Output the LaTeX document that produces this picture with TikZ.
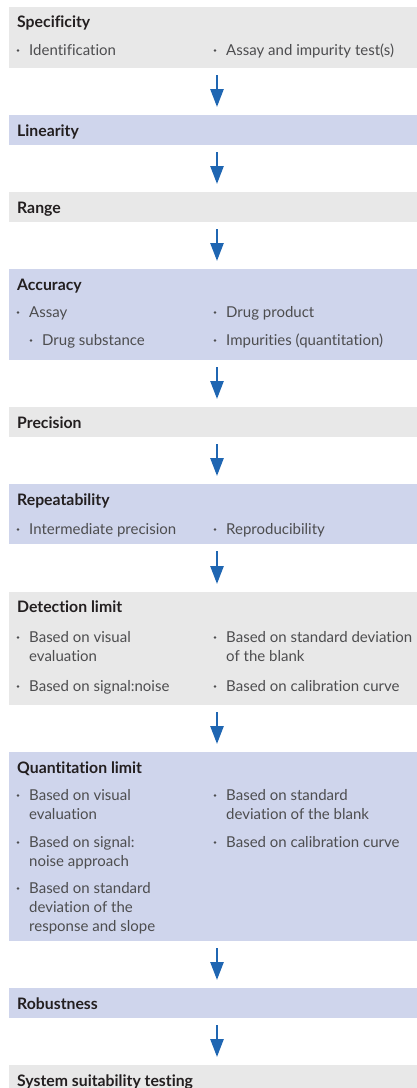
\documentclass[tikz,border=0pt]{standalone}
\usepackage{fontspec}
\setmainfont{Lato}[Ligatures={NoCommon}]
\usepackage{tikz}
\usetikzlibrary{arrows.meta,positioning}
\definecolor{VALGray}{HTML}{E8E8E8}
\definecolor{VALLavender}{HTML}{CFD5EC}
\definecolor{VALBlue}{HTML}{1F66B2}
\definecolor{VALTitle}{HTML}{231F20}
\definecolor{VALText}{HTML}{4D4D4F}
\tikzset{
  stage/.style={
    anchor=north west,
    minimum width=416pt,
    inner sep=0pt,
    outer sep=0pt
  },
  graystage/.style={stage,fill=VALGray},
  bluestage/.style={stage,fill=VALLavender},
  stagetitle/.style={anchor=base west,inner sep=0pt,font=\fontsize{15.8}{18}\selectfont\bfseries,text=VALTitle},
  itemtext/.style={anchor=base west,inner sep=0pt,font=\fontsize{15}{19}\selectfont,text=VALText},
  arrow/.style={-{Triangle[length=18pt,width=13pt]},draw=VALBlue,line width=2.6pt,shorten <=7pt,shorten >=8pt}
}
% The item text sits in a top-aligned tabular, so its base is the first line.
\newcommand{\valitem}[4]{%
  \node[itemtext] (#1) at (#2,#3) {\begin{tabular}[t]{@{}l@{}}#4\end{tabular}};
  \fill[VALText] (#2,#3) ++(-11,-4.5) circle (1.3pt);
}

\begin{document}
\begin{tikzpicture}[x=1pt,y=-1pt]
  \useasboundingbox (0,0) rectangle (416,1088);

  % Stage boxes, from top to bottom.
  \node[graystage,minimum height=61pt] (spec) at (9,7) {};
  \node[bluestage,minimum height=30pt] (lin) at (9,115) {};
  \node[graystage,minimum height=30pt] (range) at (9,192) {};
  \node[bluestage,minimum height=91pt] (acc) at (9,269) {};
  \node[graystage,minimum height=30pt] (prec) at (9,407) {};
  \node[bluestage,minimum height=60pt] (rep) at (9,484) {};
  \node[graystage,minimum height=113pt] (det) at (9,592) {};
  \node[bluestage,minimum height=189pt] (quant) at (9,752) {};
  \node[bluestage,minimum height=30pt] (rob) at (9,988) {};
  \node[graystage,minimum height=30pt] (sst) at (9,1065) {};

  \foreach \a/\b in {spec/lin,lin/range,range/acc,acc/prec,prec/rep,rep/det,det/quant,quant/rob,rob/sst}
    \draw[arrow] (\a.south) -- (\b.north);

  % Stage titles.
  \node[stagetitle] (specT) at (17,27) {Specificity};
  \node[stagetitle] (linT) at (17,136) {Linearity};
  \node[stagetitle] (rangeT) at (17,213) {Range};
  \node[stagetitle] (accT) at (17,290) {Accuracy};
  \node[stagetitle] (precT) at (17,428) {Precision};
  \node[stagetitle] (repT) at (17,505) {Repeatability};
  \node[stagetitle] (detT) at (17,612) {Detection limit};
  \node[stagetitle] (quantT) at (17,773) {Quantitation limit};
  \node[stagetitle] (robT) at (17,1009) {Robustness};
  \node[stagetitle] (sstT) at (17,1086) {System suitability testing};

  % Bullet items, left column at 29 and right column at 226.
  \valitem{specA}{29}{55}{Identification}
  \valitem{specB}{226}{55}{Assay and impurity test(s)}

  \valitem{accA}{29}{317}{Assay}
  \valitem{accB}{42}{345}{Drug substance}
  \valitem{accC}{226}{317}{Drug product}
  \valitem{accD}{226}{345}{Impurities (quantitation)}

  \valitem{repA}{29}{534}{Intermediate precision}
  \valitem{repB}{226}{534}{Reproducibility}

  \valitem{detA}{29}{642}{Based on visual\\evaluation}
  \valitem{detB}{29}{691}{Based on signal:noise}
  \valitem{detC}{226}{642}{Based on standard deviation\\of the blank}
  \valitem{detD}{226}{691}{Based on calibration curve}

  \valitem{quantA}{29}{800}{Based on visual\\evaluation}
  \valitem{quantB}{29}{847}{Based on signal:\\noise approach}
  \valitem{quantC}{29}{893}{Based on standard\\deviation of the\\response and slope}
  \valitem{quantD}{226}{800}{Based on standard\\deviation of the blank}
  \valitem{quantE}{226}{847}{Based on calibration curve}
\end{tikzpicture}
\end{document}
